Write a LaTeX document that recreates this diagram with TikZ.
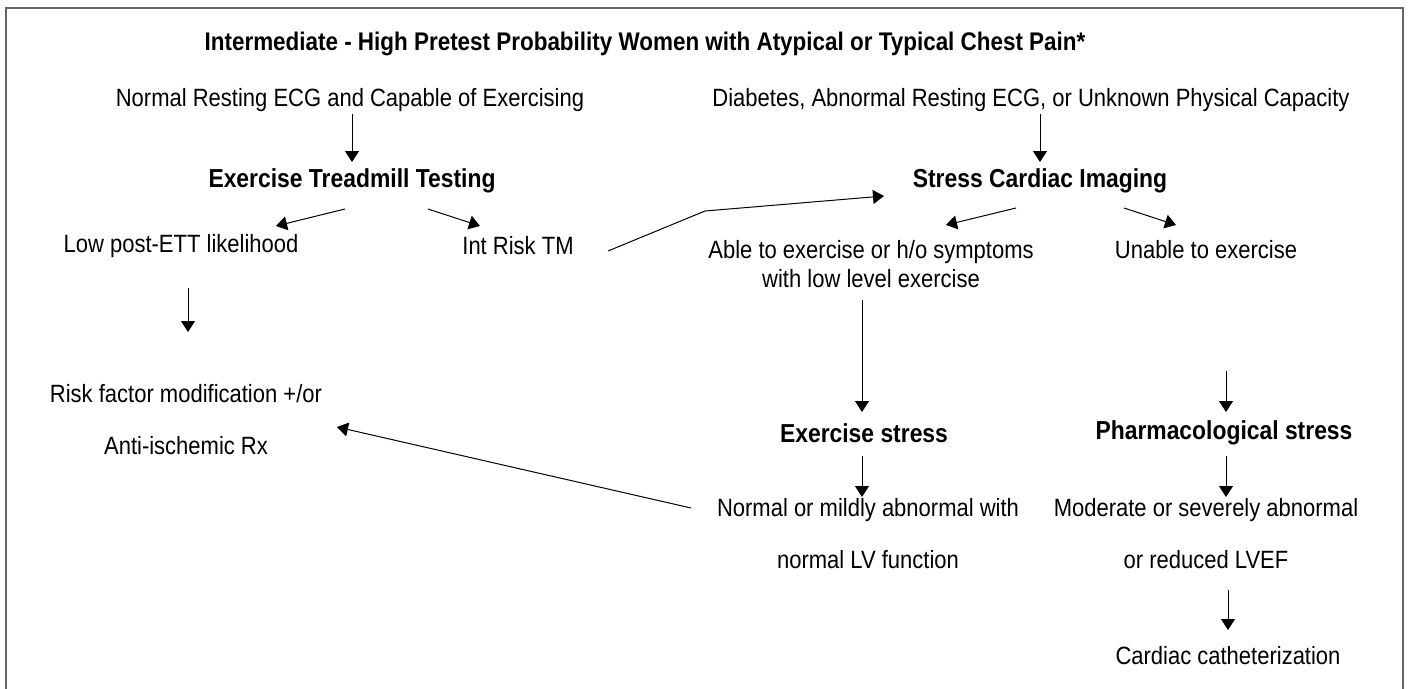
\documentclass[tikz,border=0pt]{standalone}
\usepackage{fontspec}
\setmainfont{Liberation Sans}[FakeStretch=0.88]
\usetikzlibrary{arrows.meta,calc}
\begin{document}
\begin{tikzpicture}[x=1pt,y=-1pt,
  txt/.style={inner sep=0pt, align=center, font=\fontsize{25}{29}\selectfont},
  hd/.style={inner sep=0pt, align=center, font=\fontsize{26}{29}\selectfont\bfseries},
  wide/.style={inner sep=0pt, align=center, font=\fontsize{25}{52}\selectfont},
  arr/.style={-{Triangle[length=11pt,width=14pt]}, line width=1pt}]
\useasboundingbox (0,0) rectangle (1408,688);
\fill[white] (0,0) rectangle (1408,688);
\draw[black!60, line width=2pt] (6,690) -- (6,8) -- (1403,8) -- (1403,690);

\node[hd, font=\fontsize{25.5}{29}\selectfont\bfseries] (title) at (645,44) {Intermediate - High Pretest Probability Women with Atypical or Typical Chest Pain*};

\node[txt] (nrest) at (350,100) {Normal Resting ECG and Capable of Exercising};
\node[hd] (ett) at (352,181) {Exercise Treadmill Testing};
\node[txt] (diab) at (1031,100) {Diabetes, Abnormal Resting ECG, or Unknown Physical Capacity};
\node[hd] (sci) at (1040,181) {Stress Cardiac Imaging};

\node[txt] (low) at (181,246) {Low post-ETT likelihood};
\node[txt] (intr) at (518,246) {Int Risk TM};
\node[txt] (able) at (871,264) {Able to exercise or h/o symptoms\\with low level exercise};
\node[txt] (unable) at (1206,250) {Unable to exercise};

\node[wide] (risk) at (186,420) {Risk factor modification +/or\\Anti-ischemic Rx};

\node[hd] (exs) at (864,433) {Exercise stress};
\node[hd] (phs) at (1224,433) {Pharmacological stress};

\node[wide] (nrm) at (868,534) {Normal or mildly abnormal with\\normal LV function};
\node[wide] (mod) at (1206,534) {Moderate or severely abnormal\\or reduced LVEF};
\node[txt] (cath) at (1228,656) {Cardiac catheterization};

\coordinate (bend) at (705,211);

\draw[arr] ($(nrest.center)+(2,14)$) -- ($(ett.center)+(0,-19)$);
\draw[arr] ($(diab.center)+(9,14)$) -- ($(sci.center)+(0,-19)$);
\draw[arr] ($(ett.center)+(-7,28)$) -- ($(low.center)+(95,-20)$);
\draw[arr] ($(ett.center)+(76,28)$) -- ($(intr.center)+(-38,-20)$);
\draw[arr] ($(intr.center)+(90,5)$) -- (bend) -- ($(sci.center)+(-156,15)$);
\draw[arr] ($(sci.center)+(-24,27)$) -- ($(able.center)+(75,-39)$);
\draw[arr] ($(sci.center)+(84,27)$) -- ($(unable.center)+(-30,-25)$);
\draw[arr] ($(low.center)+(7,42)$) -- ($(risk.center)+(2,-88)$);
\draw[arr] ($(able.center)+(-9,36)$) -- ($(exs.center)+(-2,-21)$);
\draw[arr] ($(unable.center)+(20,121)$) -- ($(phs.center)+(2,-21)$);
\draw[arr] ($(exs.center)+(-2,23)$) -- ($(nrm.center)+(-6,-37)$);
\draw[arr] ($(phs.center)+(2,23)$) -- ($(mod.center)+(20,-37)$);
\draw[arr] ($(mod.center)+(22,56)$) -- ($(cath.center)+(0,-26)$);
\draw[arr] ($(nrm.center)+(-177,-26)$) -- ($(risk.center)+(151,7)$);
\end{tikzpicture}
\end{document}
